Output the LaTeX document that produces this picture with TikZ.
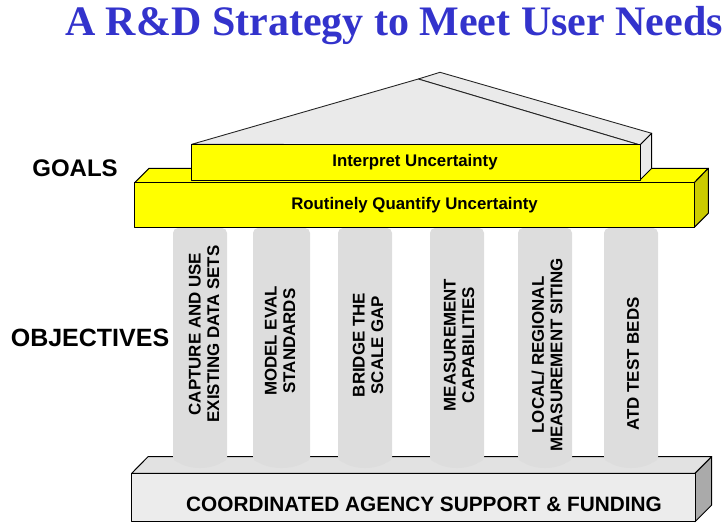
\documentclass[tikz,border=0pt]{standalone}
\usepackage{fontspec}
\setmainfont{Liberation Sans}
\newfontfamily\titlefont{Liberation Serif}
\definecolor{titleblue}{RGB}{51,51,204}
\definecolor{goalyellow}{RGB}{255,255,0}
\definecolor{goalside}{RGB}{204,204,0}
\definecolor{roofgray}{RGB}{234,234,234}
\definecolor{pillargray}{RGB}{221,221,221}
\definecolor{basefront}{RGB}{236,236,236}
\definecolor{basetop}{RGB}{226,226,226}
\definecolor{baseside}{RGB}{170,170,170}
\tikzset{
  face/.style={draw=black, line width=1pt, line join=round},
  roofface/.style={draw=black!85, line width=0.9pt, line join=round, fill=roofgray},
  yface/.style={face, fill=goalyellow},
  label/.style={font=\bfseries\fontsize{24}{26}\selectfont, inner sep=0pt},
  goaltext/.style={font=\bfseries\fontsize{16.8}{19}\selectfont, inner sep=0pt},
  objtext/.style={font=\bfseries\fontsize{16.9}{18.5}\selectfont, inner sep=0pt,
    rotate=90, align=center},
  pillar/.style={fill=pillargray}
}
\begin{document}
\begin{tikzpicture}[x=1pt, y=-1pt]
\useasboundingbox (0,0) rectangle (727,523);

% title
\node[anchor=base, inner sep=0pt, text=titleblue,
      font=\titlefont\bfseries\fontsize{42}{44}\selectfont] (title) at (394,35)
  {A R\&D Strategy to Meet User Needs};

% row labels
\node[label] (goals) at (75,168) {GOALS};
\node[label, font=\bfseries\fontsize{25}{27}\selectfont] (objectives) at (90,338) {OBJECTIVES};

% foundation slab
\draw[face, fill=basetop] (131.7,473.3) -- (148,456.7) -- (711.7,456.7) -- (695,473.3) -- cycle;
\draw[face, fill=baseside] (695,473.3) -- (711.7,456.7) -- (711.7,505) -- (695,521.7) -- cycle;
\draw[face, fill=basefront] (131.7,473.3) rectangle (695,521.7);
\node[font=\bfseries\fontsize{20.8}{22}\selectfont, inner sep=0pt] (funding) at (424,504)
  {COORDINATED AGENCY SUPPORT \& FUNDING};

% columns
\foreach \xa/\xb in {173/227, 253/310, 338/392, 430/484, 518/572, 604/658}{
  \fill[pillar, rounded corners=5pt] (\xa,228) rectangle (\xb,462);
  \fill[pillar] (\xa,454) arc[start angle=180, end angle=0,
      x radius={(\xb-\xa)/2}, y radius=14];
}

% column captions
\node[objtext] (obj1) at (204,334) {CAPTURE AND USE\\EXISTING DATA SETS};
\node[objtext] (obj2) at (280,341) {MODEL EVAL\\STANDARDS};
\node[objtext] (obj3) at (368,345) {BRIDGE THE\\SCALE GAP};
\node[objtext] (obj4) at (459,345) {MEASUREMENT\\CAPABILITIES};
\node[objtext] (obj5) at (547,355) {LOCAL/ REGIONAL\\MEASUREMENT SITING};
\node[objtext] (obj6) at (633,364) {ATD TEST BEDS};

% lower goal beam: top face
\draw[yface] (134.7,182.7) -- (149,168.3) -- (708.3,168.3) -- (694.3,182.7) -- cycle;

% roof prism
\draw[roofface] (418.3,79) -- (440,72.3) -- (651.7,133.3) -- (640,145) -- cycle;
\draw[roofface] (191.7,144.3) -- (418.3,79) -- (640,145) -- cycle;

% upper goal beam
\draw[face, fill=roofgray] (640,145) -- (651.7,133.3) -- (651.7,168.3) -- (640,180) -- cycle;
\draw[yface] (191.7,144.3) rectangle (640,180);
\node[goaltext] (interpret) at (415,162.5) {Interpret Uncertainty};

% lower goal beam: front and side
\draw[face, fill=goalside] (694.3,182.7) -- (708.3,168.3) -- (708.3,213.3) -- (694.3,227.3) -- cycle;
\draw[yface] (134.7,182.7) rectangle (694.3,227.3);
\node[goaltext] (quantify) at (414.5,205) {Routinely Quantify Uncertainty};
\end{tikzpicture}
\end{document}
